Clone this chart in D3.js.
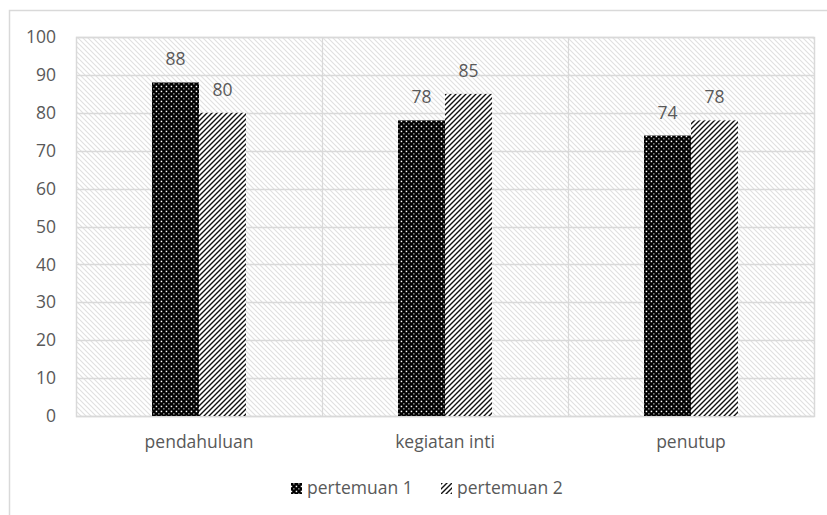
<!DOCTYPE html>
<html>
<head>
<meta charset="utf-8">
<script src="https://cdn.jsdelivr.net/npm/d3@7/dist/d3.min.js"></script>
<style>
  html, body { margin: 0; padding: 0; background: #fff; }
  svg { display: block; }
  text { font-family: "Open Sans", "Noto Sans", sans-serif; fill: #595959; }
</style>
</head>
<body>
<script>
// Chart data
const categories = ["pendahuluan", "kegiatan inti", "penutup"];
const seriesNames = ["pertemuan 1", "pertemuan 2"];
const pertemuan1 = [88, 78, 74];
const pertemuan2 = [80, 85, 78];
const yTicks = [0, 10, 20, 30, 40, 50, 60, 70, 80, 90, 100];

const W = 827, H = 515;
const plot = { left: 76, top: 37, right: 814, bottom: 416 };
const FONT = 17.5;

const svg = d3.select("body").append("svg").attr("width", W).attr("height", H);
const defs = svg.append("defs");

// Light diagonal hatching for the plot area
const bg = defs.append("pattern").attr("id", "bgHatch")
  .attr("patternUnits", "userSpaceOnUse").attr("width", 5).attr("height", 5);
bg.append("rect").attr("width", 5).attr("height", 5).attr("fill", "#fff");
bg.append("path").attr("d", "M-1,-1 L6,6 M-1,4 L1,6 M4,-1 L6,1")
  .attr("stroke", "#e0e0e0").attr("stroke-width", 1.1);

// Dotted fill for series 1 (black with white dots)
const dots = defs.append("pattern").attr("id", "dotFill")
  .attr("patternUnits", "userSpaceOnUse").attr("width", 5).attr("height", 5);
dots.append("rect").attr("width", 5).attr("height", 5).attr("fill", "#000");
dots.append("rect").attr("x", 0.7).attr("y", 0.7).attr("width", 1.5).attr("height", 1.5).attr("fill", "#fff");
dots.append("rect").attr("x", 3.2).attr("y", 3.2).attr("width", 1.3).attr("height", 1.3).attr("fill", "#bbb");

// Forward diagonal hatch for series 2
const hatch = defs.append("pattern").attr("id", "fwdHatch")
  .attr("patternUnits", "userSpaceOnUse").attr("width", 5).attr("height", 5);
hatch.append("rect").attr("width", 5).attr("height", 5).attr("fill", "#fff");
hatch.append("path").attr("d", "M-1,6 L6,-1 M-1,1 L1,-1 M4,6 L6,4")
  .attr("stroke", "#111").attr("stroke-width", 1.4);

const fills = ["url(#dotFill)", "url(#fwdHatch)"];

// Outer chart frame (extends past the right and bottom edges)
svg.append("path")
  .attr("d", `M9.5,${H + 2} L9.5,10.5 L${W + 2},10.5`)
  .attr("fill", "none").attr("stroke", "#d9d9d9").attr("stroke-width", 1.5);

// Scales
const x = d3.scaleBand().domain(categories).range([plot.left, plot.right]).paddingInner(0).paddingOuter(0);
const y = d3.scaleLinear().domain([0, 100]).range([plot.bottom, plot.top]);
const barW = 47;

// Plot background
svg.append("rect")
  .attr("x", plot.left).attr("y", plot.top)
  .attr("width", plot.right - plot.left).attr("height", plot.bottom - plot.top)
  .attr("fill", "url(#bgHatch)");

// Gridlines
svg.append("g").selectAll("line").data(yTicks).join("line")
  .attr("x1", plot.left).attr("x2", plot.right)
  .attr("y1", d => Math.round(y(d)) + 0.5).attr("y2", d => Math.round(y(d)) + 0.5)
  .attr("stroke", "#d9d9d9").attr("stroke-width", 1.5);

// Category separators and plot border
svg.append("g").selectAll("line").data(categories.slice(1)).join("line")
  .attr("x1", d => x(d) + 0.5).attr("x2", d => x(d) + 0.5)
  .attr("y1", plot.top).attr("y2", plot.bottom)
  .attr("stroke", "#d9d9d9").attr("stroke-width", 1.2);
svg.append("rect")
  .attr("x", plot.left + 0.5).attr("y", plot.top + 0.5)
  .attr("width", plot.right - plot.left).attr("height", plot.bottom - plot.top)
  .attr("fill", "none").attr("stroke", "#d9d9d9").attr("stroke-width", 1.5);

// Y axis labels
const yAxis = d3.axisLeft(y).tickValues(yTicks).tickSize(0).tickPadding(0);
const yg = svg.append("g").attr("transform", `translate(56,0)`).call(yAxis);
yg.select(".domain").remove();
yg.selectAll("text").attr("font-size", FONT).attr("fill", "#595959")
  .style("font-family", "'Open Sans', 'Noto Sans', sans-serif");

// X axis labels
const xAxis = d3.axisBottom(x).tickSize(0).tickPadding(0);
const xg = svg.append("g").attr("transform", `translate(0,436)`).call(xAxis);
xg.select(".domain").remove();
xg.selectAll("text").attr("font-size", FONT).attr("fill", "#595959")
  .style("font-family", "'Open Sans', 'Noto Sans', sans-serif");

// Bars
const series = [pertemuan1, pertemuan2];
series.forEach((vals, si) => {
  const g = svg.append("g");
  g.selectAll("rect").data(vals).join("rect")
    .attr("x", (d, i) => x(categories[i]) + x.bandwidth() / 2 - barW + si * barW)
    .attr("y", d => y(d))
    .attr("width", barW)
    .attr("height", d => y(0) - y(d))
    .attr("fill", fills[si]);
  g.selectAll("text").data(vals).join("text")
    .attr("x", (d, i) => x(categories[i]) + x.bandwidth() / 2 - barW / 2 + si * barW)
    .attr("y", d => y(d) - 17)
    .attr("text-anchor", "middle")
    .attr("font-size", FONT)
    .text(d => d);
});

// Legend
const legend = svg.append("g");
const legendItems = [
  { name: seriesNames[0], fill: fills[0], x: 291 },
  { name: seriesNames[1], fill: fills[1], x: 441 }
];
legendItems.forEach(it => {
  legend.append("rect").attr("x", it.x).attr("y", 483).attr("width", 11).attr("height", 11).attr("fill", it.fill);
  legend.append("text").attr("x", it.x + 16).attr("y", 494).attr("font-size", FONT).text(it.name);
});
</script>
</body>
</html>
